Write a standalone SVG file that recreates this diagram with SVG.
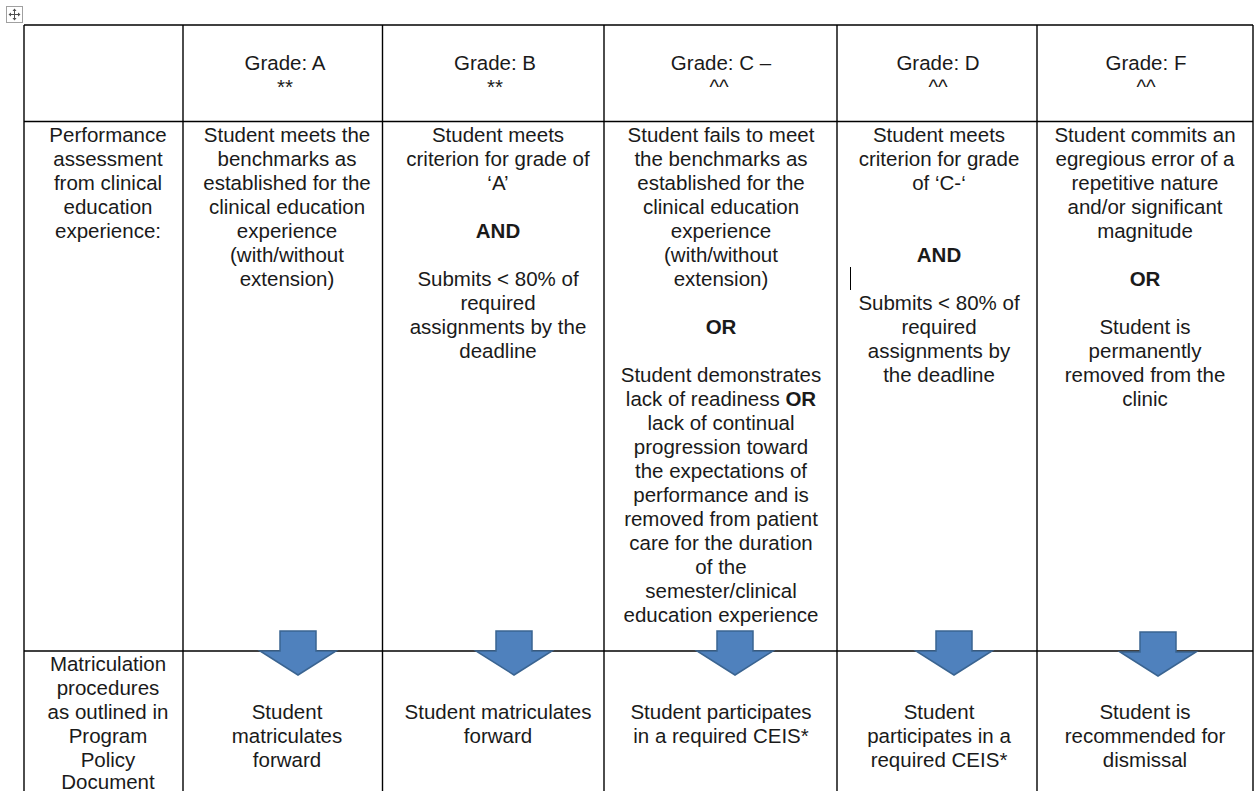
<svg xmlns="http://www.w3.org/2000/svg" width="1258" height="791" viewBox="0 0 1258 791">
<defs>
<style>
text{font-family:"Liberation Sans",Arial,sans-serif;font-size:20.5px;fill:#1a1a1a;text-anchor:middle}
.b{font-weight:bold}
.grid line{stroke:#000;stroke-width:1.4}
.arr{fill:#4F81BD;stroke:#3A6491;stroke-width:1.5;stroke-linejoin:miter}
</style>
<path id="dn" d="M-18,-44 H18 V-24 H38 L0,0 L-38,-24 H-18 Z"/>
</defs>
<rect width="1258" height="791" fill="#fff"/>
<g id="move-icon">
<rect x="6.5" y="6.5" width="16" height="16" fill="#fff" stroke="#a0a0a0" stroke-width="1"/>
<path d="M14.5,9 V20 M9,14.5 H20" stroke="#505050" stroke-width="1"/>
<path d="M14.5,8.5 l-2,2.5 h4 z M14.5,20.5 l-2,-2.5 h4 z M8.5,14.5 l2.5,-2 v4 z M20.5,14.5 l-2.5,-2 v4 z" fill="#505050"/>
</g>
<g class="grid" id="table-grid">
<line x1="24" y1="25" x2="1253" y2="25"/>
<line x1="24" y1="121.5" x2="1253" y2="121.5"/>
<line x1="24" y1="651" x2="1253" y2="651"/>
<line x1="24" y1="25" x2="24" y2="791"/>
<line x1="183" y1="25" x2="183" y2="791"/>
<line x1="382.5" y1="25" x2="382.5" y2="791"/>
<line x1="604" y1="25" x2="604" y2="791"/>
<line x1="837" y1="25" x2="837" y2="791"/>
<line x1="1037" y1="25" x2="1037" y2="791"/>
<line x1="1253" y1="25" x2="1253" y2="791"/>
</g>
<g id="hdr-A"><text x="285" y="70">Grade: A</text><text x="285" y="94">**</text></g>
<g id="hdr-B"><text x="495" y="70">Grade: B</text><text x="495" y="94">**</text></g>
<g id="hdr-C"><text x="721" y="70">Grade: C –</text><text x="719" y="94">^^</text></g>
<g id="hdr-D"><text x="938" y="70">Grade: D</text><text x="938" y="94">^^</text></g>
<g id="hdr-F"><text x="1146" y="70">Grade: F</text><text x="1146" y="94">^^</text></g>
<g id="label-perf">
<text x="108" y="142">Performance</text>
<text x="108" y="166">assessment</text>
<text x="108" y="190">from clinical</text>
<text x="108" y="214">education</text>
<text x="108" y="238">experience:</text>
</g>
<g id="perf-A">
<text x="287" y="142">Student meets the</text>
<text x="287" y="166">benchmarks as</text>
<text x="287" y="190">established for the</text>
<text x="287" y="214">clinical education</text>
<text x="287" y="238">experience</text>
<text x="287" y="262">(with/without</text>
<text x="287" y="286">extension)</text>
</g>
<g id="perf-B">
<text x="498" y="142">Student meets</text>
<text x="498" y="166">criterion for grade of</text>
<text x="498" y="190">‘A’</text>
<text x="498" y="238" class="b">AND</text>
<text x="498" y="286">Submits &lt; 80% of</text>
<text x="498" y="310">required</text>
<text x="498" y="334">assignments by the</text>
<text x="498" y="358">deadline</text>
</g>
<g id="perf-C">
<text x="721" y="142">Student fails to meet</text>
<text x="721" y="166">the benchmarks as</text>
<text x="721" y="190">established for the</text>
<text x="721" y="214">clinical education</text>
<text x="721" y="238">experience</text>
<text x="721" y="262">(with/without</text>
<text x="721" y="286">extension)</text>
<text x="721" y="334" class="b">OR</text>
<text x="721" y="382">Student demonstrates</text>
<text x="721" y="406">lack of readiness <tspan class="b">OR</tspan></text>
<text x="721" y="430">lack of continual</text>
<text x="721" y="454">progression toward</text>
<text x="721" y="478">the expectations of</text>
<text x="721" y="502">performance and is</text>
<text x="721" y="526">removed from patient</text>
<text x="721" y="550">care for the duration</text>
<text x="721" y="574">of the</text>
<text x="721" y="598">semester/clinical</text>
<text x="721" y="622">education experience</text>
</g>
<g id="perf-D">
<text x="939" y="142">Student meets</text>
<text x="939" y="166">criterion for grade</text>
<text x="939" y="190">of ‘C-‘</text>
<text x="939" y="262" class="b">AND</text>
<line x1="850.5" y1="267" x2="850.5" y2="290" stroke="#000" stroke-width="1"/>
<text x="939" y="310">Submits &lt; 80% of</text>
<text x="939" y="334">required</text>
<text x="939" y="358">assignments by</text>
<text x="939" y="382">the deadline</text>
</g>
<g id="perf-F">
<text x="1145" y="142">Student commits an</text>
<text x="1145" y="166">egregious error of a</text>
<text x="1145" y="190">repetitive nature</text>
<text x="1145" y="214">and/or significant</text>
<text x="1145" y="238">magnitude</text>
<text x="1145" y="286" class="b">OR</text>
<text x="1145" y="334">Student is</text>
<text x="1145" y="358">permanently</text>
<text x="1145" y="382">removed from the</text>
<text x="1145" y="406">clinic</text>
</g>
<g id="label-matric">
<text x="108" y="671">Matriculation</text>
<text x="108" y="695">procedures</text>
<text x="108" y="719">as outlined in</text>
<text x="108" y="743">Program</text>
<text x="108" y="767">Policy</text>
<text x="108" y="789">Document</text>
</g>
<g id="out-A">
<text x="287" y="719">Student</text>
<text x="287" y="743">matriculates</text>
<text x="287" y="767">forward</text>
</g>
<g id="out-B">
<text x="498" y="719">Student matriculates</text>
<text x="498" y="743">forward</text>
</g>
<g id="out-C">
<text x="721" y="719">Student participates</text>
<text x="721" y="743">in a required CEIS*</text>
</g>
<g id="out-D">
<text x="939" y="719">Student</text>
<text x="939" y="743">participates in a</text>
<text x="939" y="767">required CEIS*</text>
</g>
<g id="out-F">
<text x="1145" y="719">Student is</text>
<text x="1145" y="743">recommended for</text>
<text x="1145" y="767">dismissal</text>
</g>
<g id="connectors">
<use href="#dn" class="arr" transform="translate(298,675)"/>
<use href="#dn" class="arr" transform="translate(514,675)"/>
<use href="#dn" class="arr" transform="translate(735,675)"/>
<use href="#dn" class="arr" transform="translate(954,675)"/>
<use href="#dn" class="arr" transform="translate(1158,676)"/>
</g>
</svg>
